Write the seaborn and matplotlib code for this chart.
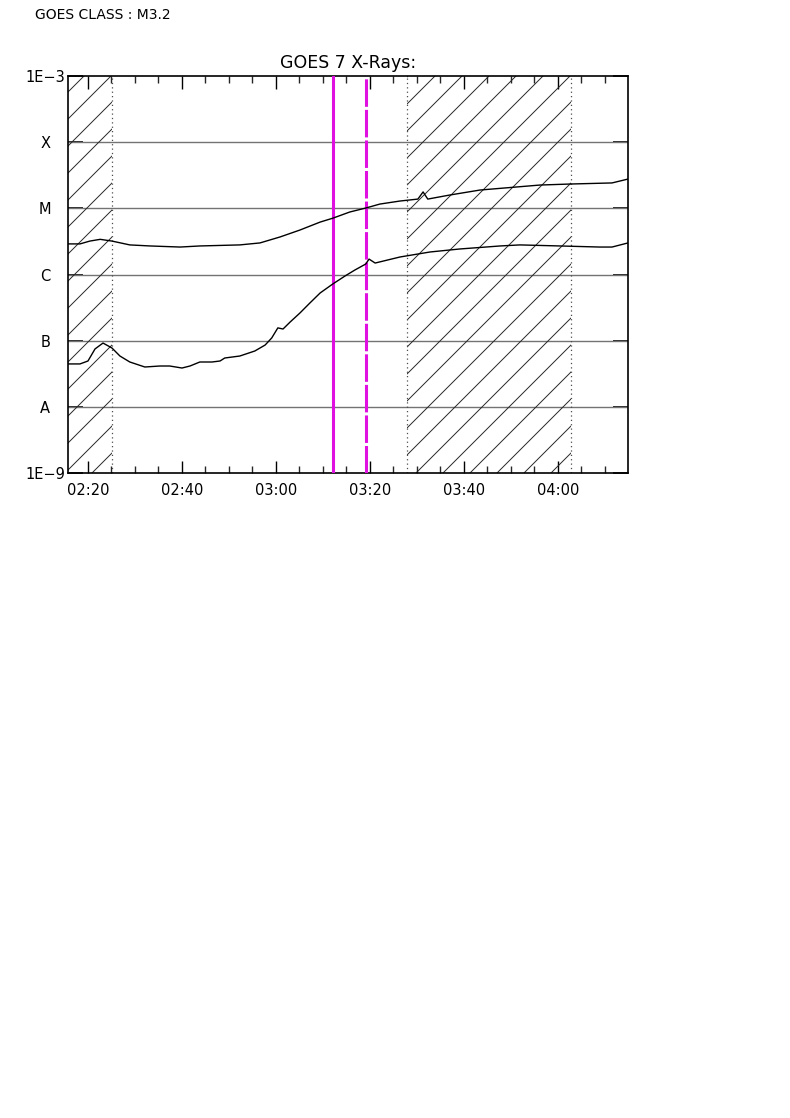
import numpy as np
import pandas as pd
import seaborn as sns
import matplotlib.pyplot as plt
from matplotlib.ticker import FixedLocator, MultipleLocator, FuncFormatter, NullLocator
from matplotlib.patches import Rectangle


# time in minutes after 02:00 UT, flux in W/m^2
long_time = [15.7, 18.3, 20.4, 22.6, 25.1, 28.9, 33.2, 39.6, 43.8, 52.3, 56.6, 60.9, 65.1, 69.4,
             72.1, 75.7, 79.1, 82.1, 86.4, 90.2, 91.3, 92.3, 97.0, 103.4, 116.2, 122.6, 131.5, 134.9]
long_flux = [2.9e-6, 2.9e-6, 3.2e-6, 3.4e-6, 3.2e-6, 2.8e-6, 2.7e-6, 2.6e-6, 2.7e-6, 2.8e-6,
             3.0e-6, 3.7e-6, 4.7e-6, 6.2e-6, 7.1e-6, 8.8e-6, 1.01e-5, 1.16e-5, 1.29e-5, 1.38e-5,
             1.77e-5, 1.38e-5, 1.59e-5, 1.89e-5, 2.25e-5, 2.33e-5, 2.42e-5, 2.77e-5]

short_time = [15.7, 18.3, 20.0, 21.5, 23.2, 25.1, 26.8, 28.9, 32.1, 35.3, 37.4, 40.0, 41.7, 43.8,
              46.4, 48.1, 49.1, 52.3, 55.5, 57.7, 59.1, 60.4, 61.5, 63.0, 65.1, 67.2, 69.4, 72.1,
              74.7, 76.8, 79.1, 79.8, 81.1, 86.4, 92.8, 99.1, 107.7, 111.9, 120.4, 128.9, 131.5, 134.9]
short_flux = [4.45e-8, 4.45e-8, 4.93e-8, 7.5e-8, 9.2e-8, 7.75e-8, 5.86e-8, 4.76e-8, 4.0e-8, 4.14e-8,
              4.14e-8, 3.86e-8, 4.14e-8, 4.76e-8, 4.76e-8, 4.93e-8, 5.47e-8, 5.86e-8, 6.98e-8, 8.6e-8,
              1.1e-7, 1.56e-7, 1.5e-7, 1.91e-7, 2.62e-7, 3.7e-7, 5.26e-7, 7.2e-7, 9.5e-7, 1.17e-6,
              1.44e-6, 1.71e-6, 1.49e-6, 1.84e-6, 2.19e-6, 2.43e-6, 2.7e-6, 2.8e-6, 2.7e-6, 2.6e-6,
              2.6e-6, 3.0e-6]

class_levels = [1e-8, 1e-7, 1e-6, 1e-5, 1e-4]
ytick_values = [1e-9, 1e-8, 1e-7, 1e-6, 1e-5, 1e-4, 1e-3]
ytick_labels = ['1E\u22129', 'A', 'B', 'C', 'M', 'X', '1E\u22123']

# hatched (no data / night) intervals and flare markers
hatch_spans = [(15.75, 25.1), (87.9, 122.8)]
flare_start = 72.1
flare_peak = 79.1
x_range = (15.75, 134.9)

sns.set_theme(style='white')
plt.rcParams['font.family'] = ['DejaVu Sans']
plt.rcParams['text.color'] = 'black'

fig = plt.figure(figsize=(7.9, 11.18), dpi=100)
ax = fig.add_axes([68 / 790, 1 - 473 / 1118, 560 / 790, 397 / 1118])

df = pd.concat([
    pd.DataFrame({'time': long_time, 'flux': long_flux, 'channel': 'long'}),
    pd.DataFrame({'time': short_time, 'flux': short_flux, 'channel': 'short'}),
])
sns.lineplot(data=df, x='time', y='flux', units='channel', estimator=None,
             color='black', lw=1.0, ax=ax, legend=False, zorder=4)

ax.set_yscale('log')
ax.set_ylim(1e-9, 1e-3)
ax.set_xlim(*x_range)

# class grid lines
for lvl in class_levels:
    ax.axhline(lvl, color='0.45', lw=1.0, zorder=1)

# diagonal hatching, 45 degrees in pixels
w_px, h_px = 560, 397
step = 27 / w_px
offsets = (92 - 68) / w_px + step * np.arange(-25, 30)
for t0, t1 in hatch_spans:
    clip = Rectangle((t0, 0), t1 - t0, 1, transform=ax.get_xaxis_transform(),
                     fill=False, edgecolor='none')
    for b in offsets:
        line, = ax.plot([b, b + h_px / w_px], [0, 1], transform=ax.transAxes,
                        color='0.15', lw=0.7, zorder=1)
        line.set_clip_path(clip)
    for edge in (t0, t1):
        if x_range[0] < edge < x_range[1]:
            ax.axvline(edge, color='0.3', lw=0.9, ls=(0, (1, 2.5)), zorder=1)

ax.axvline(flare_start, color='#e010e0', lw=2.2, zorder=3)
ax.axvline(flare_peak, color='#e010e0', lw=2.2, dashes=(9, 1.0), zorder=3)

# axes / ticks
ax.yaxis.set_major_locator(FixedLocator(ytick_values))
ax.yaxis.set_minor_locator(NullLocator())
ax.set_yticklabels(ytick_labels)
ax.tick_params(axis='y', which='major', direction='in', length=11, width=1.2,
               left=True, right=True, pad=16.5, labelsize=10.5, colors='black')
for lab in ax.get_yticklabels():
    lab.set_horizontalalignment('center')

ax.xaxis.set_major_locator(MultipleLocator(20))
ax.xaxis.set_minor_locator(MultipleLocator(5))
ax.xaxis.set_major_formatter(FuncFormatter(
    lambda v, p: f"{int(round(v + 120)) // 60:02d}:{int(round(v + 120)) % 60:02d}"))
ax.tick_params(axis='x', which='major', direction='in', length=9, width=1,
               top=True, bottom=True, pad=7, labelsize=10.5, colors='black')
ax.tick_params(axis='x', which='minor', direction='in', length=5, width=1,
               top=True, bottom=True)

for s in ax.spines.values():
    s.set_color('black')
    s.set_linewidth(1.2)

ax.set_xlabel('')
ax.set_ylabel('')
ax.set_title('GOES 7 X-Rays:', fontsize=12.5, pad=6, color='black')
fig.text(35 / 790, 1 - 15 / 1118, 'GOES CLASS : M3.2', fontsize=10, ha='left', va='center')

fig.savefig('out.png', dpi=100)
